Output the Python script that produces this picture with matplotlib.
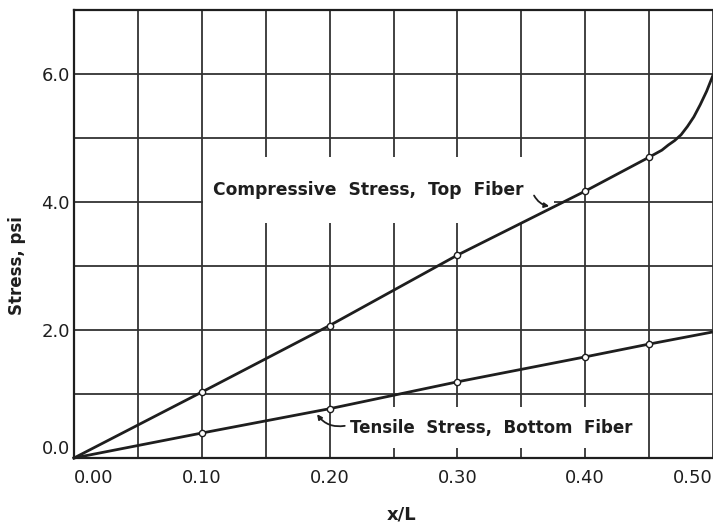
import matplotlib.pyplot as plt
from matplotlib.patches import Rectangle

# data
pts_x = [0.10, 0.20, 0.30, 0.40, 0.45]
top_pts = [1.03, 2.07, 3.17, 4.17, 4.70]
bot_pts = [0.39, 0.77, 1.19, 1.58, 1.78]

# curves (top one bends up past x/L = 0.45)
top_x = [0.0, 0.10, 0.20, 0.30, 0.40, 0.45, 0.46, 0.465, 0.47, 0.475, 0.48, 0.485, 0.49, 0.495, 0.50]
top_y = [0.0, 1.03, 2.07, 3.17, 4.17, 4.70, 4.81, 4.89, 4.96, 5.05, 5.18, 5.33, 5.52, 5.73, 5.98]
bot_x = [0.0, 0.10, 0.20, 0.30, 0.40, 0.45, 0.50]
bot_y = [0.0, 0.39, 0.77, 1.19, 1.58, 1.78, 1.97]

xticks = [0.0, 0.1, 0.2, 0.3, 0.4, 0.5]
xticklabels = ['0.00', '0.10', '0.20', '0.30', '0.40', '0.50']
yticks = [0.0, 2.0, 4.0, 6.0]
yticklabels = ['0.0', '2.0', '4.0', '6.0']

ink = '#1e1e1e'
fig = plt.figure(figsize=(7.13, 5.22), dpi=100)
ax = fig.add_axes([74 / 713, 64 / 522, 639 / 713, 448 / 522])

ax.set_xlim(0, 0.5)
ax.set_ylim(0, 7.0)

# grid every 0.05 in x and 1.0 in y
ax.set_xticks([i * 0.05 for i in range(11)], minor=True)
ax.set_yticks(range(8), minor=True)
ax.set_xticks(xticks)
ax.set_xticklabels(xticklabels, fontsize=13, color=ink)
ax.set_yticks(yticks)
ax.set_yticklabels(yticklabels, fontsize=13, color=ink)
ax.grid(True, which='both', color='#333333', lw=1.3)
ax.set_axisbelow(True)

ax.tick_params(which='both', length=0)
ax.tick_params(axis='x', pad=8)
ax.tick_params(axis='y', pad=3)
xl = ax.get_xticklabels()
xl[0].set_ha('left')
xl[-1].set_ha('right')
ax.get_yticklabels()[0].set_va('bottom')

for s in ['left', 'bottom', 'top']:
    ax.spines[s].set_color(ink)
    ax.spines[s].set_linewidth(1.6)
ax.spines['right'].set_visible(False)

# white patches behind the labels break the grid
ax.add_patch(Rectangle((0.1008, 3.67), 0.275, 1.03, facecolor='white', edgecolor='none', zorder=1))
ax.add_patch(Rectangle((0.205, 0.16), 0.237, 0.64, facecolor='white', edgecolor='none', zorder=1))

ax.plot(top_x, top_y, color=ink, lw=2, zorder=3, clip_on=False)
ax.plot(bot_x, bot_y, color=ink, lw=2, zorder=3, clip_on=False)
ax.plot(pts_x, top_pts, 'o', mfc='white', mec=ink, ms=4.5, mew=1, zorder=4)
ax.plot(pts_x, bot_pts, 'o', mfc='white', mec=ink, ms=4.5, mew=1, zorder=4)

ax.text(0.109, 4.19, 'Compressive  Stress,  Top  Fiber', fontsize=12.3, fontweight='bold',
        color=ink, va='center', ha='left', zorder=5)
ax.annotate('', xy=(0.374, 3.93), xytext=(0.359, 4.14),
            arrowprops=dict(arrowstyle='-|>', color=ink, lw=1.3, mutation_scale=7,
                            connectionstyle='arc3,rad=0.3'), zorder=5)

ax.text(0.216, 0.47, 'Tensile  Stress,  Bottom  Fiber', fontsize=12, fontweight='bold',
        color=ink, va='center', ha='left', zorder=5)
ax.annotate('', xy=(0.189, 0.72), xytext=(0.214, 0.51),
            arrowprops=dict(arrowstyle='-|>', color=ink, lw=1.3, mutation_scale=7,
                            connectionstyle='arc3,rad=-0.35'), zorder=5)

ax.set_ylabel('Stress, psi', fontsize=12, fontweight='bold', color=ink)
ax.yaxis.set_label_coords(-0.075, 0.43)
ax.set_xlabel('x/L', fontsize=13, fontweight='bold', color=ink)
ax.xaxis.set_label_coords(0.513, -0.105)

fig.savefig('out.png', dpi=100)
